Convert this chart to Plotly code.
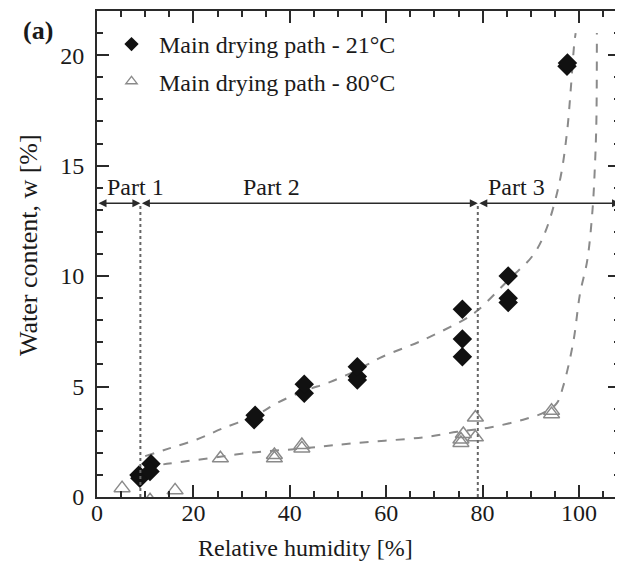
import plotly.graph_objects as go

# ---- data ----
rh_21 = [8.7, 8.9, 11.2, 11.0, 32.6, 32.8, 43.0, 43.0, 54.0, 54.0, 54.0, 75.8, 75.8, 75.8, 85.3, 85.3, 85.3, 97.5, 97.6]
w_21 = [1.0, 0.85, 1.5, 1.15, 3.5, 3.7, 4.7, 5.1, 5.3, 5.45, 5.9, 8.5, 7.15, 6.35, 10.0, 9.0, 8.8, 19.5, 19.65]

rh_80 = [5.2, 16.2, 11.0, 25.6, 36.8, 36.8, 42.5, 42.5, 75.5, 75.5, 76.0, 78.5, 78.5, 94.3, 94.3]
w_80 = [0.4, 0.3, -0.15, 1.75, 1.9, 1.75, 2.35, 2.2, 2.6, 2.45, 2.85, 3.6, 2.7, 3.9, 3.75]

fit_21_x = [10, 15, 20.7, 26, 33, 37.3, 43, 48.3, 54, 58.7, 67.6, 76.7, 79, 85.7, 90.3, 93, 96, 97.5, 98.3, 99, 99.3]
fit_21_y = [1.85, 2.2, 2.6, 3.1, 3.7, 4.25, 4.8, 5.2, 5.75, 6.3, 7.1, 8.1, 8.45, 9.9, 10.9, 12.0, 14.3, 16.5, 18.5, 20.5, 21.0]

fit_80_x = [10, 14.5, 21.4, 31.7, 42.7, 54, 67.6, 74.7, 81.5, 88.4, 93, 95.4, 96.7, 98.8, 100.2, 101.7, 102.8, 103.3, 103.6, 103.7]
fit_80_y = [1.35, 1.5, 1.7, 2.0, 2.2, 2.45, 2.7, 2.95, 3.15, 3.5, 3.85, 4.25, 5.0, 7.0, 9.2, 10.7, 13.0, 15.0, 17.0, 21.0]

series_names = ["Main drying path - 21°C", "Main drying path - 80°C"]

part_bounds = [0, 9, 79, 108.5]
part_labels = ["Part 1", "Part 2", "Part 3"]
part_label_x = [8.0, 36.3, 87.1]
part_level = 13.3

x_ticks = [0, 20, 40, 60, 80, 100]
y_ticks = [0, 5, 10, 15, 20]

FONT = "Liberation Serif"
TXT = "#1a1a1a"
AX = "#2a2a2a"
GRAY = "#8a8a8a"

# plot area in page pixels; the page body adds an 8 px offset,
# so the figure is sized to fit the window without scrollbars
OFF = 8
W, H = 623 - OFF, 572 - 2 * OFF
PL, PT, PW, PH = 97, 9, 523, 488

def px(xp):
    return (xp - PL) / PW

def py(yp):
    return (PT + PH - yp) / PH

fig = go.Figure()

fig.add_trace(go.Scatter(x=fit_21_x, y=fit_21_y, mode="lines",
                         line=dict(color=GRAY, width=2, dash="dash", shape="spline"),
                         showlegend=False, hoverinfo="skip"))
fig.add_trace(go.Scatter(x=fit_80_x, y=fit_80_y, mode="lines",
                         line=dict(color=GRAY, width=2, dash="dash", shape="spline"),
                         showlegend=False, hoverinfo="skip"))

fig.add_trace(go.Scatter(x=rh_21, y=w_21, mode="markers", showlegend=False,
                         marker=dict(symbol="diamond", size=15, color="#111111")))
fig.add_trace(go.Scatter(x=rh_80, y=w_80, mode="markers", showlegend=False,
                         marker=dict(symbol="triangle-up-open", size=14, color=GRAY,
                                     line=dict(width=1.5, color=GRAY))))

# legend entries (smaller symbols, as in the reference legend)
fig.add_trace(go.Scatter(x=[None], y=[None], mode="markers", name=series_names[0], legendgroup="a",
                         marker=dict(symbol="diamond", size=11, color="#111111")))
fig.add_trace(go.Scatter(x=[None], y=[None], mode="markers", name=series_names[1], legendgroup="b",
                         marker=dict(symbol="triangle-up-open", size=10, color=GRAY,
                                     line=dict(width=1.3, color=GRAY))))

# vertical dotted boundaries
for xb in part_bounds[1:3]:
    fig.add_shape(type="line", x0=xb, x1=xb, y0=0, y1=part_level, xref="x", yref="y",
                  line=dict(color="#666666", width=2, dash="dot"))

# horizontal double arrows for parts
for i in range(3):
    a, b = part_bounds[i], part_bounds[i + 1]
    fig.add_annotation(x=b, y=part_level, ax=a, ay=part_level, xref="x", yref="y", axref="x", ayref="y",
                       showarrow=True, arrowhead=2, startarrowhead=2, arrowside="end+start",
                       arrowsize=1, startarrowsize=1, arrowwidth=1.6, arrowcolor=AX, text="")
    fig.add_annotation(x=part_label_x[i], y=part_level + 0.72, xref="x", yref="y", text=part_labels[i],
                       showarrow=False, xanchor="center", yanchor="middle",
                       font=dict(family=FONT, size=24, color=TXT))

# (a) label
fig.add_annotation(x=px(38), y=py(29), xref="paper", yref="paper", text="<b>(a)</b>", showarrow=False,
                   xanchor="center", yanchor="middle", font=dict(family=FONT, size=26, color=TXT))

# axis titles as annotations (positioned like the reference)
fig.add_annotation(x=px(305), y=py(548), xref="paper", yref="paper",
                   text="Relative humidity [%]", showarrow=False, xanchor="center", yanchor="middle",
                   font=dict(family=FONT, size=24, color=TXT))
fig.add_annotation(x=px(28), y=py(244), xref="paper", yref="paper",
                   text="Water content, w [%]", showarrow=False, textangle=-90,
                   xanchor="center", yanchor="middle",
                   font=dict(family=FONT, size=26, color=TXT))

fig.update_layout(
    width=W, height=H,
    margin=dict(l=PL - OFF, r=W - (PL - OFF + PW), t=PT - OFF, b=H - (PT - OFF + PH), pad=0),
    paper_bgcolor="white", plot_bgcolor="white",
    font=dict(family=FONT, size=24, color=TXT),
    legend=dict(x=px(131 - 27), y=py(20), xanchor="left", yanchor="top", bgcolor="rgba(0,0,0,0)",
                font=dict(family=FONT, size=24, color=TXT), traceorder="grouped", tracegroupgap=3,
                itemwidth=45),
    showlegend=True,
)

fig.update_xaxes(range=[part_bounds[0], part_bounds[-1]], tickvals=x_ticks, ticks="inside", ticklen=12, tickwidth=2,
                 tickcolor=AX, showline=True, linewidth=2, linecolor=AX, mirror="ticks", showgrid=False,
                 zeroline=False,
                 minor=dict(dtick=5, ticks="inside", ticklen=6, tickwidth=1.5, tickcolor=AX, showgrid=False),
                 tickfont=dict(family=FONT, size=24, color=TXT), ticklabelstandoff=-7)
fig.update_yaxes(range=[0, 22], tickvals=y_ticks, ticks="inside", ticklen=12, tickwidth=2,
                 tickcolor=AX, showline=True, linewidth=2, linecolor=AX, mirror="ticks", showgrid=False,
                 zeroline=False,
                 minor=dict(dtick=1, ticks="inside", ticklen=6, tickwidth=1.5, tickcolor=AX, showgrid=False),
                 tickfont=dict(family=FONT, size=24, color=TXT), ticklabelstandoff=6)

fig.write_html("out.html")
